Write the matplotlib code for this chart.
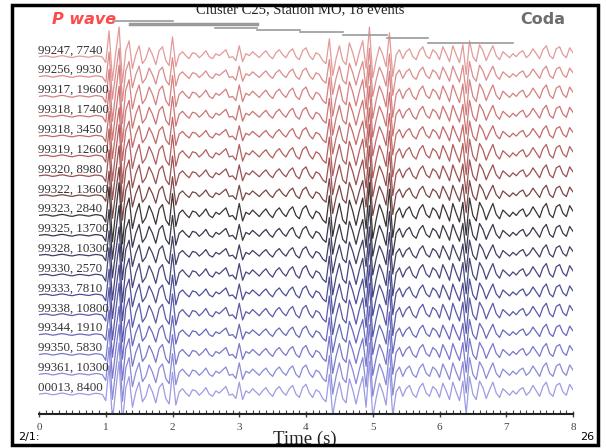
import numpy as np
import matplotlib
matplotlib.use("Agg")
import matplotlib.pyplot as plt
from matplotlib.ticker import MultipleLocator
from matplotlib.patches import Rectangle
from matplotlib.lines import Line2D

# ---- data ----
event_labels = ["99247, 7740", "99256, 9930", "99317, 19600", "99318, 17400",
                "99318, 3450", "99319, 12600", "99320, 8980", "99322, 13600",
                "99323, 2840", "99325, 13700", "99328, 10300", "99330, 2570",
                "99333, 7810", "99338, 10800", "99344, 1910", "99350, 5830",
                "99361, 10300", "00013, 8400"]
trace_scale = [1.00, 0.95, 1.05, 1.00, 0.95, 1.05, 1.00, 0.95, 1.10,
               1.00, 0.95, 1.05, 1.00, 1.05, 0.95, 1.00, 1.05, 1.10]
sample_dt = 0.05
base_wave = [0.00, 0.02, 0.04, 0.01, -0.03, -0.01, 0.03, 0.05, 0.02, -0.02,
             -0.04, 0.00, 0.03, 0.02, -0.01, -0.03, 0.01, 0.04, 0.02, -0.02,
             -0.30, 1.30, -1.20, 0.20, 1.50, -1.30, 0.30, 0.80, -0.60, 0.10,
             0.55, -0.35, -0.10, 0.45, 0.10, -0.40, 0.30, 0.50, -0.20, -0.45,
             1.00, -0.50, 0.10, 0.25, 0.05, -0.10, 0.20, 0.15, -0.05, 0.10,
             0.30, 0.00, -0.10, 0.15, 0.05, 0.20, 0.35, -0.05, 0.00, -0.20,
             0.55, -0.25, 0.15, 0.05, 0.25, 0.10, -0.05, 0.15, 0.30, 0.05,
             -0.10, 0.20, 0.35, 0.10, -0.05, 0.25, 0.40, 0.00, -0.15, 0.30,
             0.45, 0.05, -0.15, 0.20, 0.10, -0.20, -0.35, 0.90, -0.95, -0.10,
             0.55, -0.20, -0.40, 0.70, 0.20, -0.45, 0.25, 0.80, -0.60, 1.50,
             -1.05, -0.20, 0.50, 0.10, -0.50, 1.20, -1.00, 0.10, 0.35, -0.10,
             0.25, 0.40, 0.00, -0.15, 0.30, 0.50, 0.05, -0.10, 0.35, 0.20,
             -0.15, 0.50, 0.15, -0.25, 0.55, 0.10, -0.30, 0.60, -0.90, 0.80,
             0.00, -0.25, 0.60, 0.30, -0.20, 0.20, 0.55, 0.05, -0.15, 0.25,
             0.10, -0.05, 0.15, 0.00, 0.20, 0.30, -0.05, 0.10, 0.40, 0.15,
             -0.10, 0.35, 0.55, 0.05, -0.10, 0.40, 0.50, 0.10, -0.05, 0.45,
             0.20]
x_ticks = [0, 1, 2, 3, 4, 5, 6, 7, 8]

trace_colors = ["#e39a9a", "#dc8c8c", "#d58080", "#cc7474", "#c26a6a", "#b25e5e",
                "#9a5050", "#7a4646", "#3c3434", "#38384a", "#404064", "#46467e",
                "#4e4e96", "#5a5aaa", "#6868bc", "#7878cc", "#8a8ad8", "#9c9ce4"]

W, H = 606, 448
fig = plt.figure(figsize=(W / 100, H / 100), dpi=100)
fig.patch.set_facecolor("white")

def fx(px):
    return px / W

def fy(py):
    return 1 - py / H

ax = fig.add_axes([fx(39), fy(414), fx(573) - fx(39), fy(15) - fy(414)])
t = np.arange(len(base_wave)) * sample_dt
n = len(event_labels)
wave = np.array(base_wave)
for i, (lab, sc, col) in enumerate(zip(event_labels, trace_scale, trace_colors)):
    off = n - 1 - i
    ax.plot(t, off + sc * wave, color=col, lw=0.9, solid_joinstyle="round")
    ax.text(-0.01, off + 0.02, lab, fontsize=9.3, family="Liberation Serif",
            color="#333333", ha="left", va="bottom", zorder=5)

ax.set_xlim(0, 8)
ax.set_ylim(-1.0, 19.1)
for s in ["top", "left", "right"]:
    ax.spines[s].set_visible(False)
ax.spines["bottom"].set_linewidth(1.5)
ax.spines["bottom"].set_color("#222222")
ax.set_yticks([])
ax.set_xticks(x_ticks)
ax.xaxis.set_minor_locator(MultipleLocator(0.1))
ax.tick_params(axis="x", which="major", direction="inout", length=5, width=1,
               labelsize=8, pad=4, colors="#444444")
ax.tick_params(axis="x", which="minor", direction="in", length=3, width=0.8,
               colors="#444444")
for lbl in ax.get_xticklabels():
    lbl.set_family("Liberation Serif")
ax.patch.set_alpha(0)

# title
fig.text(fx(300), fy(10), "Cluster C25, Station MO, 18 events", fontsize=10.5,
         family="Liberation Serif", ha="center", va="center", color="#222222")
fig.text(fx(305), fy(431), "Time (s)", fontsize=13.5, family="Liberation Serif",
         ha="center", va="top", color="#222222")

# annotations
fig.text(fx(52), fy(20), "P wave", fontsize=11.5, fontweight="bold", style="italic",
         color="#ff4848", ha="left", va="center", family="DejaVu Sans")
fig.text(fx(520), fy(19), "Coda", fontsize=11.5, fontweight="bold",
         color="#6e6e6e", ha="left", va="center", family="DejaVu Sans")

segs = [(113, 173, 21, 1.2), (130, 257, 24, 2.5), (215, 257, 28, 1.2),
        (257, 300, 30, 1.2), (300, 343, 32, 1.2), (343, 387, 35, 1.2),
        (387, 428, 38, 1.2), (428, 513, 43, 1.2)]
for x0, x1, yy, lw in segs:
    fig.add_artist(Line2D([fx(x0), fx(x1)], [fy(yy), fy(yy)], color="#9a9a9a",
                          lw=lw, transform=fig.transFigure))

fig.text(fx(18), fy(437), "2/1:", fontsize=8, ha="left", va="center",
         family="DejaVu Sans", color="black")
fig.text(fx(598 - 4), fy(437), "26", fontsize=8, ha="right", va="center",
         family="DejaVu Sans", color="black")

# white margin outside frame and black frame
fig.add_artist(Rectangle((0, 0), 1, fy(446), transform=fig.transFigure,
                         facecolor="white", edgecolor="none", zorder=20))
fig.add_artist(Rectangle((0, fy(4)), 1, 1 - fy(4), transform=fig.transFigure,
                         facecolor="white", edgecolor="none", zorder=20))
fig.add_artist(Rectangle((fx(12), fy(445)), fx(598) - fx(12), fy(5) - fy(445),
                         transform=fig.transFigure, facecolor="none",
                         edgecolor="black", lw=2.5, zorder=21))

fig.savefig("out.png", dpi=100)
